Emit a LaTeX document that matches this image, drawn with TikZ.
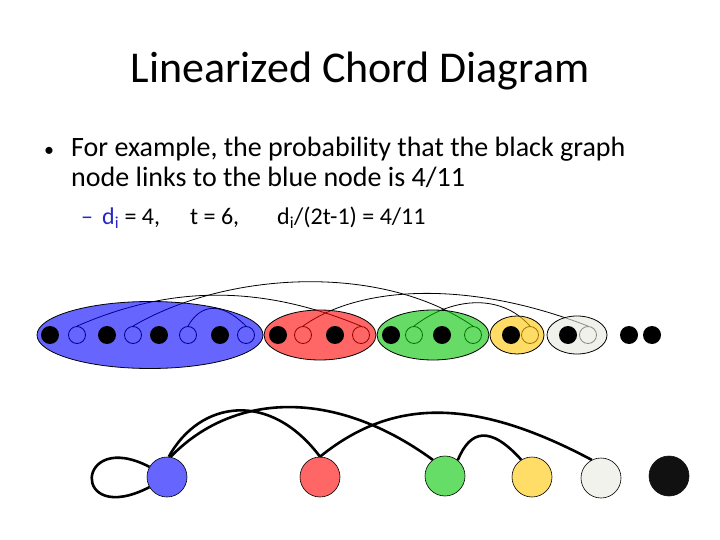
\documentclass[tikz,border=0pt]{standalone}
\usepackage{fontspec}
\setmainfont{Carlito}
\usetikzlibrary{shapes.geometric}
\definecolor{txtblue}{RGB}{40,40,200}
\definecolor{cBlue}{RGB}{0,0,255}
\definecolor{cRed}{RGB}{255,0,0}
\definecolor{cGreen}{RGB}{0,198,0}
\definecolor{cYellow}{RGB}{255,198,0}
\definecolor{cWhite}{RGB}{233,233,223}
\definecolor{nBlue}{RGB}{102,102,255}
\definecolor{nRed}{RGB}{255,102,102}
\definecolor{nGreen}{RGB}{102,221,102}
\definecolor{nYellow}{RGB}{255,221,102}
\definecolor{nWhite}{RGB}{242,242,236}
\definecolor{nBlack}{RGB}{17,17,17}
\tikzset{
  fdot/.style={circle, fill=black, inner sep=0pt, minimum size=18pt},
  odot/.style={circle, draw=black, line width=0.8pt, inner sep=0pt, minimum size=17pt},
  chord/.style={line width=0.8pt, black},
  group/.style={draw=black, line width=0.8pt, fill opacity=0.6},
  gnode/.style={circle, draw=black, line width=0.6pt, inner sep=0pt, minimum size=40pt},
  gedge/.style={line width=2.6pt, black},
  txt/.style={inner sep=0pt, anchor=base west},
}
\begin{document}
\begin{tikzpicture}[x=1pt, y=-1pt]
\useasboundingbox (0,0) rectangle (720,540);
\fill[white] (0,0) rectangle (720,540);

% title and text
\node[inner sep=0pt, anchor=base] (title) at (360,83) {\fontsize{44}{52}\selectfont Linearized Chord Diagram};
\node[txt] (bul) at (44,157) {\fontsize{20}{24}\selectfont \textbullet};
\node[txt] (l1) at (71,157) {\fontsize{28}{34}\selectfont For example, the probability that the black graph};
\node[txt] (l2) at (71,187) {\fontsize{28}{34}\selectfont node links to the blue node is 4/11};
\node[txt, text=txtblue] (dash) at (81,225) {\fontsize{24}{29}\selectfont –};
\node[txt] (s1) at (102,225) {\fontsize{24}{29}\selectfont {\color{txtblue}d\textsubscript{i}} = 4,};
\node[txt] (s2) at (190,225) {\fontsize{24}{29}\selectfont t = 6,};
\node[txt] (s3) at (277,225) {\fontsize{24}{29}\selectfont d\textsubscript{i}/(2t-1) = 4/11};

% open circles (chord endpoints)
\node[odot] (bo1) at (77,335) {};
\node[odot] (bo2) at (133,335) {};
\node[odot] (bo3) at (188,335) {};
\node[odot] (bo4) at (246,335) {};
\node[odot] (ro1) at (303,335) {};
\node[odot] (ro2) at (361,335) {};
\node[odot] (go1) at (414,335) {};
\node[odot] (go2) at (473,335) {};
\node[odot] (yo1) at (530,335) {};
\node[odot] (wo1) at (588,335) {};

% chords
\draw[chord] (bo1.north) .. controls (160,290) and (250,280) .. (ro2.north);
\draw[chord] (bo2.north) .. controls (225,272) and (380,262) .. (go2.north);
\draw[chord] (ro1.north) .. controls (360,285) and (470,280) .. (wo1.north);
\draw[chord] (go1.north) .. controls (450,298) and (500,292) .. (yo1.north);
\draw[chord] (bo3.north) .. controls (200,305) and (220,300) .. (bo4.north);

% groups
\path[group, fill=cBlue] (150,335) ellipse [x radius=113, y radius=33.5];
\path[group, fill=cRed] (320,335) ellipse [x radius=56, y radius=25];
\path[group, fill=cGreen] (433,335) ellipse [x radius=56, y radius=25];
\path[group, fill=cYellow] (517,335) ellipse [x radius=27, y radius=19];
\path[group, fill=cWhite] (577,335) ellipse [x radius=30, y radius=19];

% filled dots
\node[fdot] (bf1) at (50,335) {};
\node[fdot] (bf2) at (107,335) {};
\node[fdot] (bf3) at (159,335) {};
\node[fdot] (bf4) at (220,335) {};
\node[fdot] (rf1) at (278,335) {};
\node[fdot] (rf2) at (335,335) {};
\node[fdot] (gf1) at (391,335) {};
\node[fdot] (gf2) at (442,335) {};
\node[fdot] (yf1) at (511,335) {};
\node[fdot] (wf1) at (568,335) {};
\node[fdot] (kf1) at (629,335) {};
\node[fdot] (kf2) at (652,335) {};

% graph
\node[gnode, fill=nBlue] (gb) at (167,477) {};
\node[gnode, fill=nRed] (gr) at (320,477) {};
\node[gnode, fill=nGreen] (gg) at (445,476) {};
\node[gnode, fill=nYellow] (gy) at (532,477) {};
\node[gnode, fill=nWhite] (gw) at (601,478) {};
\node[gnode, fill=nBlack, draw=nBlack] (gk) at (669,476) {};

\draw[gedge] (gb.150) .. controls (75,428) and (70,528) .. (gb.210);
\draw[gedge] (gb.85) .. controls (200,400) and (270,390) .. (gr.north);
\draw[gedge] (gb.80) .. controls (230,395) and (330,385) .. (gg.127);
\draw[gedge] (gr.north) .. controls (390,400) and (470,395) .. (gw.117);
\draw[gedge] (gg.51) .. controls (470,430) and (490,425) .. (gy.122);
\end{tikzpicture}
\end{document}
